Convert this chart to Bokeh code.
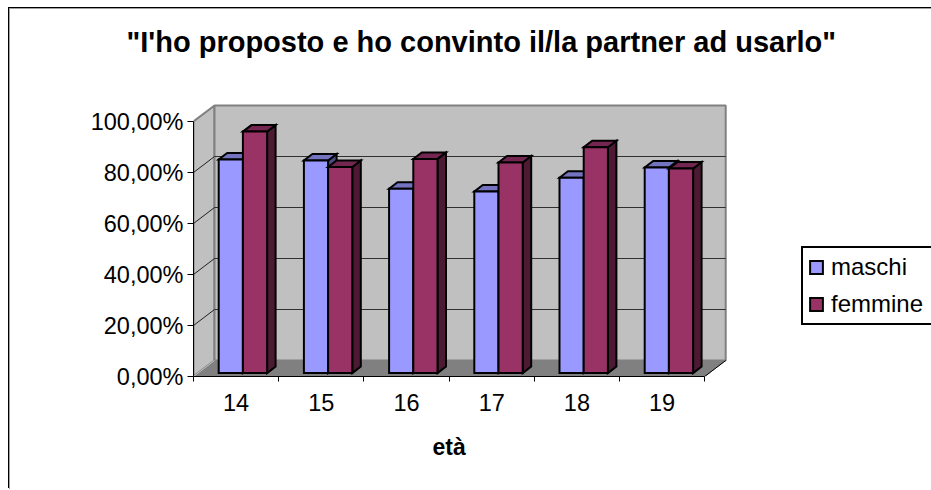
from bokeh.plotting import figure
from bokeh.embed import file_html
from bokeh.resources import INLINE
from bokeh.models import (Range1d, LinearAxis, FixedTicker, Title, Legend, LegendItem)

categories = ["14", "15", "16", "17", "18", "19"]
maschi = [83.8, 83.4, 72.3, 71.2, 76.6, 80.6]
femmine = [94.7, 80.8, 84.0, 82.6, 88.6, 80.2]
y_ticks = [0, 20, 40, 60, 80, 100]
y_labels = ["0,00%", "20,00%", "40,00%", "60,00%", "80,00%", "100,00%"]
title_text = "\"I'ho proposto e ho convinto il/la partner ad usarlo\""
x_title = "età"
series_names = ["maschi", "femmine"]

FONT = "Liberation Sans"
UX, UY = 85.2, 2.55          # pixels per category, pixels per percent
FW, FH = 534, 273
DX, DY = 21 / UX, 16 / UY    # depth of the box
BX, BY = 8.5 / UX, 6.5 / UY  # depth of a bar
BW = 24.2 / UX
X0, Y0 = 25.2 / UX, 3.4 / UY
OX, OY = 10, 9               # where the figure starts in the window
W, H = 931 - OX, 490 - OY
FL, FT = 193 - OX, 103 - OY

p = figure(frame_width=FW, frame_height=FH, output_backend="svg", toolbar_location=None,
           x_range=Range1d(0, FW / UX), y_range=Range1d(0, FH / UY),
           x_axis_type=None, y_axis_type=None, outline_line_color=None,
           min_border_left=FL, min_border_right=W - FL - FW,
           min_border_top=FT, min_border_bottom=H - FT - FH,
           margin=(OY, 0, 0, OX),
           styles={"box-shadow": "-1px -1px 0 0 #A0A0A0, -2px -2px 0 0 black"})
p.grid.visible = False

n = len(categories)
# box: floor, side wall, back wall
p.patch([0, n, n + DX, DX], [0, 0, DY, DY], fill_color="#808080", line_color="#808080")
p.patch([0, 0, DX, DX], [0, 100, 100 + DY, DY], fill_color="#C0C0C0", line_color="#808080", line_width=2)
p.patch([DX, n + DX, n + DX, DX], [DY, DY, 100 + DY, 100 + DY], fill_color="#C0C0C0",
        line_color="#808080", line_width=2)
grid = [t for t in y_ticks if 0 < t < 100]
p.multi_line([[DX, n + DX] for _ in grid], [[t + DY, t + DY] for t in grid], line_color="#303030", line_width=1)
p.multi_line([[0, DX] for _ in grid], [[t, t + DY] for t in grid], line_color="#202020", line_width=1)
p.line([0, DX], [0, DY], line_color="#C0C0C0", line_width=1)
p.line([n, n + DX], [0, DY], line_color="black", line_width=1)


def bars(vals, shift, front, top, side):
    xl = [i + X0 + shift * BW for i in range(n)]
    xr = [x + BW for x in xl]
    yt = [v + Y0 for v in vals]
    style = dict(line_color="black", line_width=2, line_join="miter")
    p.patches([[r, r + BX, r + BX, r] for r in xr],
              [[Y0, Y0 + BY, t + BY, t] for t in yt], fill_color=side, **style)
    p.patches([[l, r, r + BX, l + BX] for l, r in zip(xl, xr)],
              [[t, t, t + BY, t + BY] for t in yt], fill_color=top, **style)
    return p.patches([[l, r, r, l] for l, r in zip(xl, xr)],
                     [[Y0, Y0, t, t] for t in yt], fill_color=front, **style)


r_m = bars(maschi, 0, "#9999FF", "#7373BF", "#4D4D80")
r_f = bars(femmine, 1, "#993366", "#732650", "#4D1A33")

yaxis = LinearAxis(ticker=FixedTicker(ticks=y_ticks), bounds=(0, 100),
                   major_label_overrides={t: s for t, s in zip(y_ticks, y_labels)},
                   major_label_text_font=FONT, major_label_text_font_size="23.5px",
                   major_label_text_color="black", major_tick_in=0, major_tick_out=6,
                   major_tick_line_color="black", minor_tick_line_color=None,
                   axis_line_color="black", axis_line_width=1, major_label_standoff=4)
p.add_layout(yaxis, "left")

xaxis = LinearAxis(ticker=FixedTicker(ticks=[i + 0.5 for i in range(n)], minor_ticks=list(range(n + 1))),
                   bounds=(0, n),
                   major_label_overrides={i + 0.5: c for i, c in enumerate(categories)},
                   major_label_text_font=FONT, major_label_text_font_size="23.5px",
                   major_label_text_color="black", major_tick_line_color=None,
                   major_tick_in=0, major_tick_out=5,
                   minor_tick_in=0, minor_tick_out=5, minor_tick_line_color="black",
                   axis_line_color="black", axis_line_width=1, major_label_standoff=12)
p.add_layout(xaxis, "below")

p.add_layout(Title(text=x_title, text_font=FONT, text_font_size="23px", text_font_style="bold",
                   text_color="black", align="left", vertical_align="bottom", offset=239, standoff=36), "below")

# a blank title that only keeps the real title away from the plot
p.add_layout(Title(text=" ", text_font=FONT, text_font_size="29px", standoff=0), "above")
p.add_layout(Title(text=title_text, text_font=FONT, text_font_size="29px", text_font_style="bold",
                   text_color="black", align="left", vertical_align="top", offset=-67, standoff=20), "above")

legend = Legend(items=[LegendItem(label=series_names[0], renderers=[r_m]),
                       LegendItem(label=series_names[1], renderers=[r_f])],
                location=(74, 51), orientation="vertical",
                label_text_font=FONT, label_text_font_size="24px", label_text_color="black",
                glyph_width=16, glyph_height=16, padding=5, margin=0, spacing=9, label_width=110,
                border_line_color="black", border_line_width=2, border_line_alpha=1,
                background_fill_color="white", background_fill_alpha=1, label_standoff=7)
p.add_layout(legend, "right")

open("out.html", "w").write(file_html(p, INLINE))
